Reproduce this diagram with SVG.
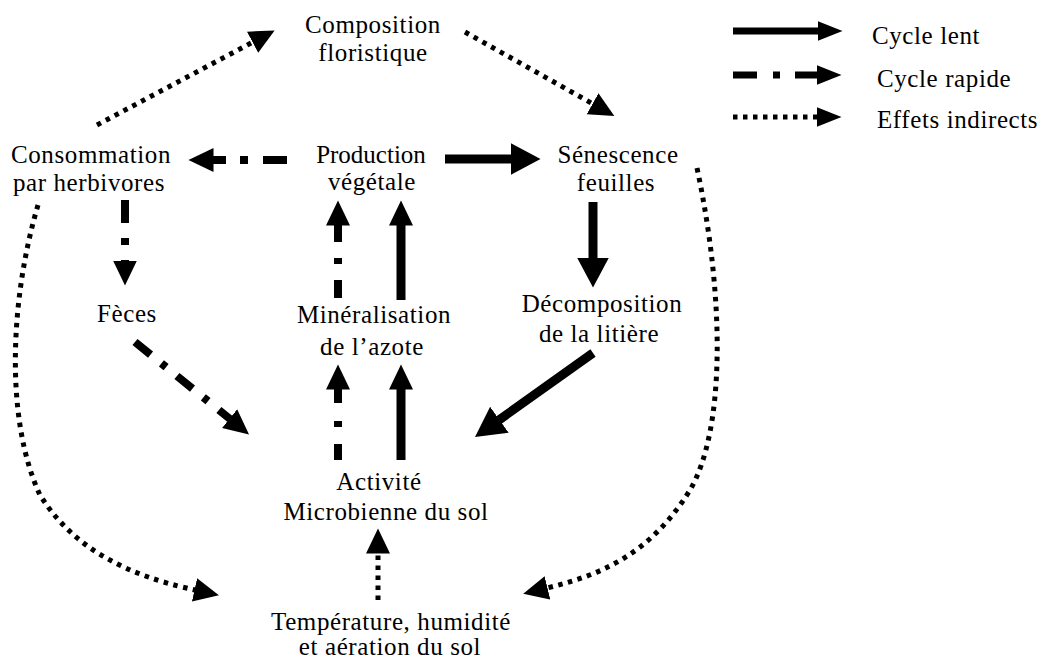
<svg xmlns="http://www.w3.org/2000/svg" width="1039" height="666" viewBox="0 0 1039 666">
<style>
text{font-family:"Liberation Serif","Times New Roman",serif;font-size:25px;fill:#000;letter-spacing:0.6px}
.c{text-anchor:middle}
.slow{fill:none;stroke:#000;stroke-width:9}
.fast{fill:none;stroke:#000;stroke-width:8}
.ind{fill:none;stroke:#000;stroke-width:5;stroke-dasharray:4.5 5.5}
.leg{stroke-width:7}
</style>
<defs>
<marker id="hBig" markerUnits="userSpaceOnUse" markerWidth="31" markerHeight="33" viewBox="0 0 31 33" refX="0.5" refY="16.5" orient="auto"><path d="M0,0.5 L30,16.5 L0,32.5 Z" fill="#000"/></marker>
<marker id="hSm" markerUnits="userSpaceOnUse" markerWidth="26" markerHeight="25" viewBox="0 0 26 25" refX="0.5" refY="12.5" orient="auto"><path d="M0,0.5 L25,12.5 L0,24.5 Z" fill="#000"/></marker>
<marker id="hLeg" markerUnits="userSpaceOnUse" markerWidth="26" markerHeight="21" viewBox="0 0 26 21" refX="0.5" refY="10.5" orient="auto"><path d="M0,0.5 L25,10.5 L0,20.5 Z" fill="#000"/></marker>
</defs>

<g id="connectors">
<!-- slow cycle -->
<path class="slow" d="M445,159 L511,159" marker-end="url(#hBig)"/>
<path class="slow" d="M593,202 L593,258" marker-end="url(#hBig)"/>
<path class="slow" d="M593,353 L499,420" marker-end="url(#hBig)"/>
<path class="slow" d="M401,300 L401,225" marker-end="url(#hSm)"/>
<path class="slow" d="M401,460 L401,389" marker-end="url(#hSm)"/>
<!-- fast cycle -->
<path class="fast" d="M287,160 L213,160" stroke-dasharray="24 15 8 14" marker-end="url(#hSm)"/>
<path class="fast" d="M125,200 L125,261" stroke-dasharray="23 15 7 15" marker-end="url(#hSm)"/>
<path class="fast" d="M135,342 L230,419" stroke-dasharray="20 14 6 14" marker-end="url(#hSm)"/>
<path class="fast" d="M338,298 L338,225" stroke-dasharray="18 16 6 16" marker-end="url(#hSm)"/>
<path class="fast" d="M338,460 L338,389" stroke-dasharray="16 17 6 18" marker-end="url(#hSm)"/>
<!-- indirect effects -->
<path class="ind" d="M97,125 L253,42" marker-end="url(#hSm)"/>
<path class="ind" d="M465,32 L593,104" marker-end="url(#hSm)"/>
<path class="ind" d="M697,168 C725,300 725,430 690,490 C650,555 600,575 547,588" marker-end="url(#hSm)"/>
<path class="ind" d="M38,205 C10,300 5,420 40,495 C80,560 150,580 195,590" marker-end="url(#hSm)"/>
<path class="ind" d="M378,600 L378,553" marker-end="url(#hSm)"/>
</g>

<g id="legend">
<path class="slow leg" d="M733,31 L818,31" marker-end="url(#hLeg)"/>
<path class="fast leg" d="M733,75 L817,75" stroke-dasharray="24 16 7 15" marker-end="url(#hLeg)"/>
<path class="ind" d="M733,117 L817,117" marker-end="url(#hLeg)"/>
<text x="872" y="44">Cycle lent</text>
<text x="877" y="87">Cycle rapide</text>
<text x="877" y="128">Effets indirects</text>
</g>

<g id="composition"><text class="c" x="373" y="33">Composition</text><text class="c" x="373" y="61">floristique</text></g>
<g id="consommation"><text class="c" x="91" y="163">Consommation</text><text class="c" x="89" y="191">par herbivores</text></g>
<g id="production"><text class="c" x="371" y="163" style="letter-spacing:0">Production</text><text class="c" x="372" y="190">végétale</text></g>
<g id="senescence"><text class="c" x="618" y="163">Sénescence</text><text class="c" x="616" y="191">feuilles</text></g>
<g id="feces"><text class="c" x="127" y="322">Fèces</text></g>
<g id="mineralisation"><text class="c" x="374" y="323">Minéralisation</text><text class="c" x="372" y="355">de l’azote</text></g>
<g id="decomposition"><text class="c" x="602" y="312">Décomposition</text><text class="c" x="599" y="342">de la litière</text></g>
<g id="activite"><text class="c" x="379" y="490">Activité</text><text class="c" x="386" y="520">Microbienne du sol</text></g>
<g id="temperature"><text class="c" x="391" y="630">Température, humidité</text><text class="c" x="390" y="655">et aération du sol</text></g>
</svg>
